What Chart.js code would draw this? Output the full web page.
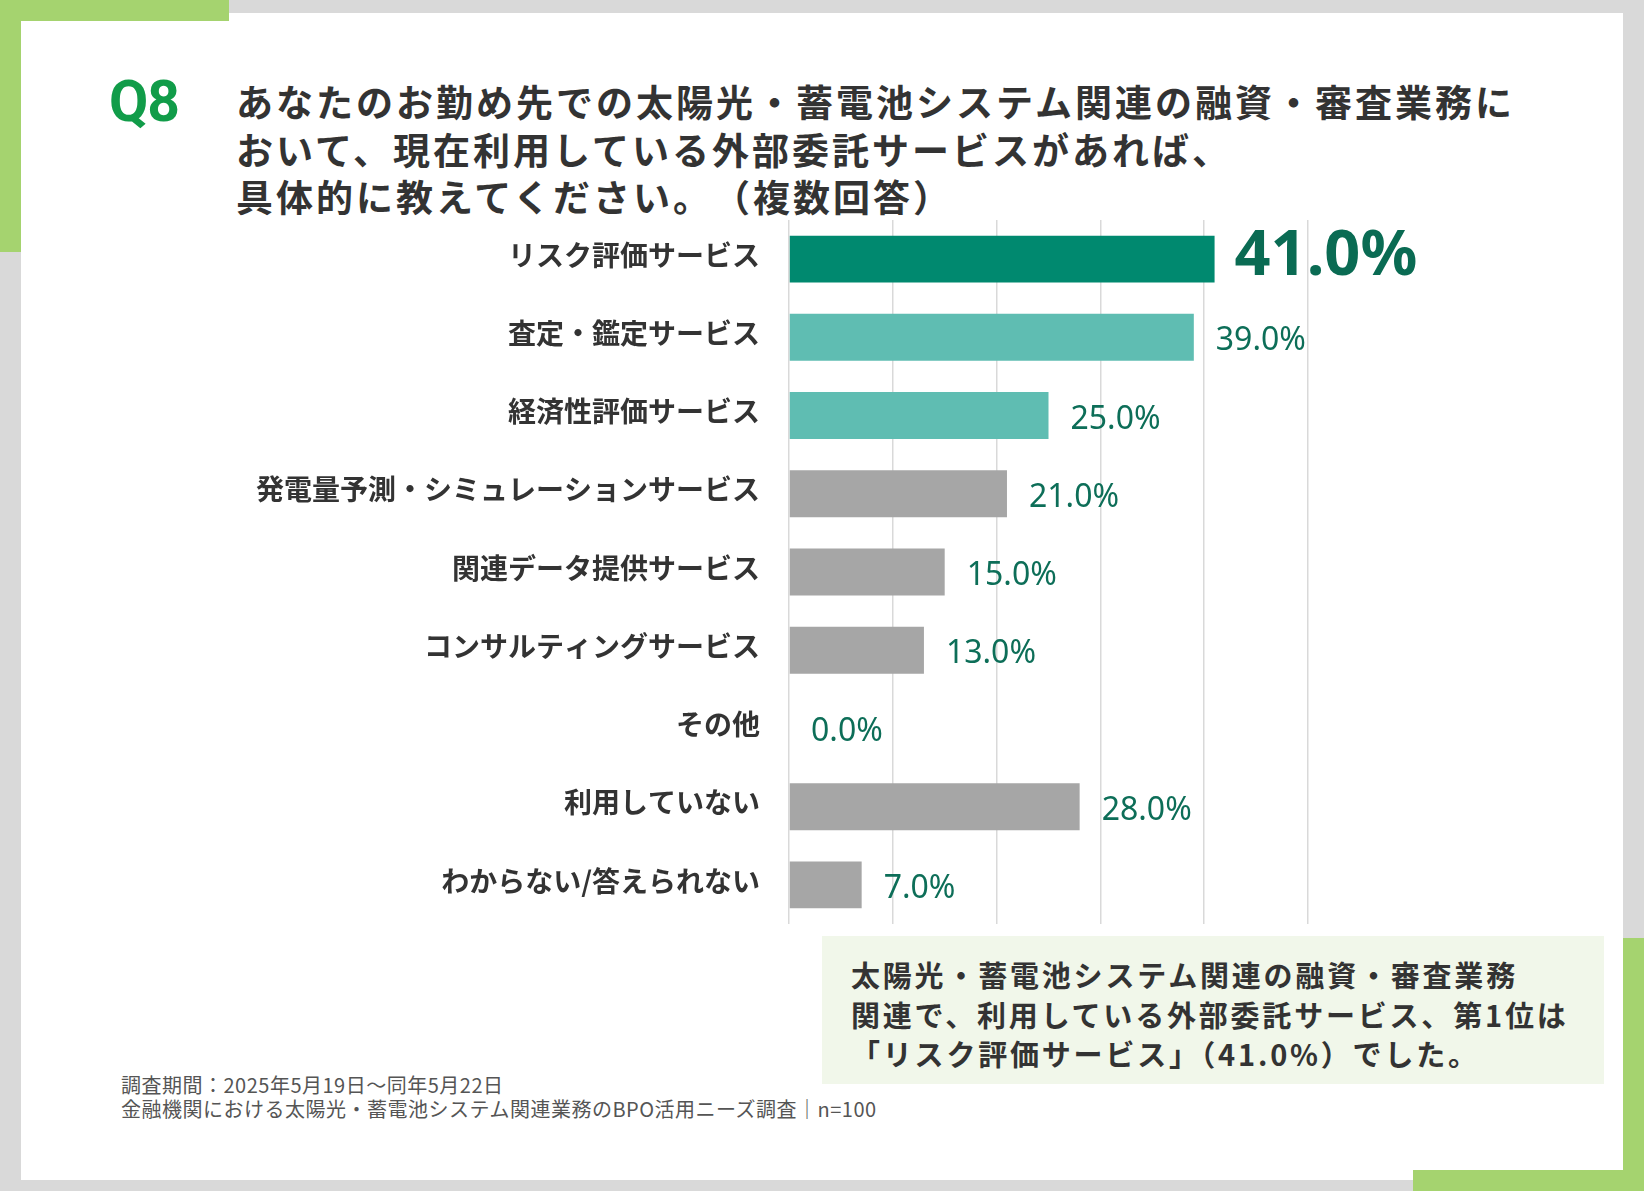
<!DOCTYPE html>
<html lang="ja">
<head>
<meta charset="utf-8">
<title>Q8 外部委託サービス</title>
<script src="https://cdn.jsdelivr.net/npm/chart.js@4.4.1/dist/chart.umd.min.js"></script>
<style>
    html, body {
        margin: 0;
        padding: 0;
    }
    body {
        width: 1644px;
        height: 1191px;
        background: #d9d9d9;
        position: relative;
        overflow: hidden;
        font-family: "Noto Sans CJK JP", "Noto Sans", sans-serif;
        color: #333;
    }
    .panel {
        position: absolute;
        left: 21px;
        top: 13px;
        width: 1602px;
        height: 1167px;
        background: #fff;
    }
    .corner { position: absolute; background: #a5d36f; }
    .q-num {
        position: absolute;
        left: 109px;
        top: 64px;
        font-family: Roboto, "Noto Sans", sans-serif;
        font-weight: 700;
        font-size: 57px;
        line-height: 76px;
        letter-spacing: -1px;
        color: #119c49;
    }
    .question {
        position: absolute;
        left: 236px;
        top: 78px;
        font-weight: 700;
        font-size: 37px;
        line-height: 47.5px;
        letter-spacing: 3px;
        color: #333;
    }
    .question .gap { display: inline-block; width: 0; }
    .chart-wrap {
        position: absolute;
        left: 0;
        top: 220px;
        width: 1430px;
        height: 704px;
    }
    .summary {
        position: absolute;
        left: 822px;
        top: 936px;
        width: 782px;
        height: 148px;
        background: #f1f7ea;
        box-sizing: border-box;
        padding: 19px 0 0 29px;
        font-weight: 700;
        font-size: 29px;
        line-height: 39.5px;
        letter-spacing: 2.8px;
        color: #333;
    }
    .note {
        position: absolute;
        left: 121px;
        top: 1073px;
        font-size: 20px;
        line-height: 24px;
        letter-spacing: 0.5px;
        color: #555;
    }
</style>
</head>
<body>
<div class="panel"></div>
<div class="corner" style="left:0;top:0;width:229px;height:21px"></div>
<div class="corner" style="left:0;top:0;width:21px;height:252px"></div>
<div class="corner" style="left:1413px;top:1170px;width:231px;height:21px"></div>
<div class="corner" style="left:1623px;top:938px;width:21px;height:253px"></div>

<div class="q-num">Q8</div>
<div class="question">あなたのお勤め先での太陽光・蓄電池システム関連の融資・審査業務に<br>おいて、現在利用している外部委託サービスがあれば、<br>具体的に教えてください。<span class="gap"></span>（複数回答）</div>

<div class="chart-wrap"><canvas id="serviceChart"></canvas></div>

<div class="summary">太陽光・蓄電池システム関連の融資・審査業務<br>関連で、利用している外部委託サービス、第1位は<br>「リスク評価サービス」（41.0%）でした。</div>

<div class="note">調査期間：2025年5月19日〜同年5月22日<br>金融機関における太陽光・蓄電池システム関連業務のBPO活用ニーズ調査｜n=100</div>

<script>
// answer choices, top to bottom
const categories = [
    'リスク評価サービス',
    '査定・鑑定サービス',
    '経済性評価サービス',
    '発電量予測・シミュレーションサービス',
    '関連データ提供サービス',
    'コンサルティングサービス',
    'その他',
    '利用していない',
    'わからない/答えられない'
];

// share of respondents (%)
const shares = [41.0, 39.0, 25.0, 21.0, 15.0, 13.0, 0.0, 28.0, 7.0];

// x axis range / grid step (%)
const axisMax = 50;
const axisStep = 10;

// top answer dark, 2nd-3rd light teal, the rest grey
function barColor(i) {
    if (i === 0) return '#00896f';
    if (i <= 2) return '#5fbdb2';
    return '#a6a6a6';
}

// draws the "xx.0%" text next to each bar
const valueLabels = {
    id: 'valueLabels',
    afterDatasetsDraw(chart) {
        const ctx = chart.ctx;
        const meta = chart.getDatasetMeta(0);
        ctx.save();
        ctx.textAlign = 'left';
        ctx.textBaseline = 'alphabetic';
        meta.data.forEach((bar, i) => {
            const text = shares[i].toFixed(1) + '%';
            if (i === 0) {
                ctx.font = '700 63px "Noto Sans", sans-serif';
                ctx.fillStyle = '#0a6b53';
                ctx.fillText(text, bar.x + 20, bar.y + 16);
            } else {
                ctx.font = '400 32px "Noto Sans", sans-serif';
                ctx.fillStyle = '#0d6e58';
                ctx.fillText(text, bar.x + 22, bar.y + 13);
            }
        });
        ctx.restore();
    }
};

new Chart(document.getElementById('serviceChart'), {
    type: 'bar',
    data: {
        labels: categories,
        datasets: [{
            data: shares,
            backgroundColor: shares.map((v, i) => barColor(i)),
            borderWidth: 0,
            categoryPercentage: 1,
            barPercentage: 0.6
        }]
    },
    options: {
        indexAxis: 'y',
        responsive: true,
        maintainAspectRatio: false,
        animation: false,
        layout: {
            padding: { top: 0, bottom: 0, left: 0, right: 122 }
        },
        plugins: {
            legend: { display: false },
            tooltip: { enabled: false }
        },
        scales: {
            x: {
                min: 0,
                max: axisMax,
                ticks: { display: false, stepSize: axisStep },
                grid: { color: '#d9d9d9', lineWidth: 1.5, drawTicks: false },
                border: { display: false },
                afterFit(scale) {
                    scale.height = 0;
                    scale.paddingLeft = 0;
                    scale.paddingRight = 0;
                }
            },
            y: {
                grid: { display: false, drawTicks: false },
                border: { display: false },
                ticks: {
                    color: '#333',
                    padding: 29,
                    labelOffset: -4,
                    font: { family: '"Noto Sans CJK JP", sans-serif', size: 28, weight: '700' }
                },
                afterFit(scale) {
                    // keep the plot area flush with the canvas top/bottom
                    scale.width = 789;
                    scale.paddingTop = 0;
                    scale.paddingBottom = 0;
                }
            }
        }
    },
    plugins: [valueLabels]
});
</script>
</body>
</html>
